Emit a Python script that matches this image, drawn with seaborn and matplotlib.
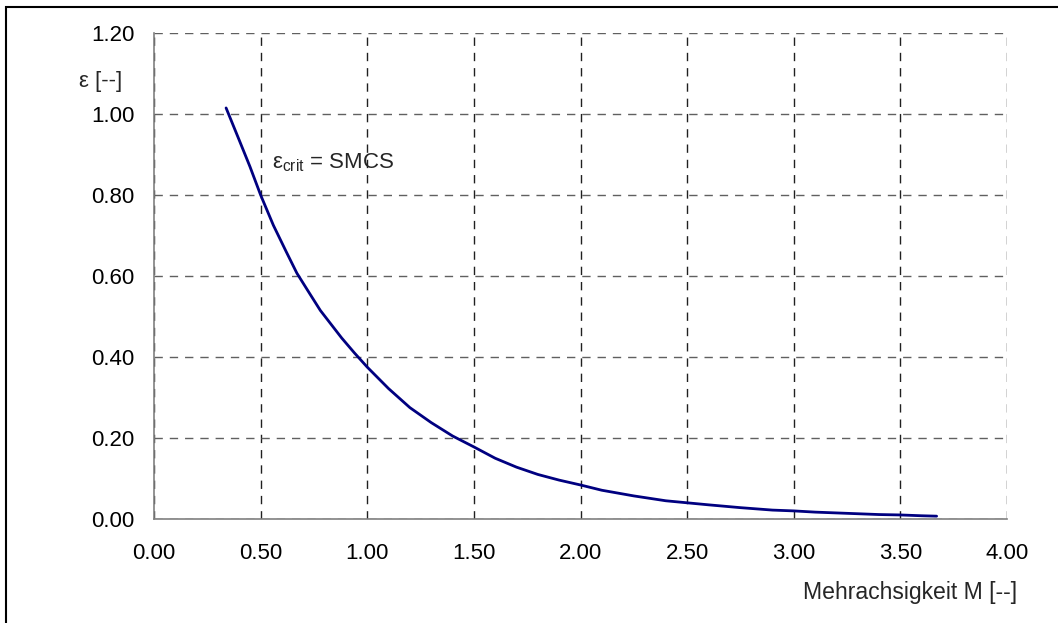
import matplotlib
matplotlib.use("Agg")
import matplotlib.pyplot as plt
import seaborn as sns
import pandas as pd
from matplotlib.patches import Rectangle

# Data
m_values = [0.338, 0.40, 0.45, 0.50, 0.56, 0.62, 0.67, 0.72, 0.78, 0.88, 0.94, 1.00,
            1.10, 1.20, 1.30, 1.40, 1.50, 1.60, 1.70, 1.80, 1.90, 2.00, 2.10, 2.25,
            2.40, 2.50, 2.60, 2.75, 2.90, 3.00, 3.10, 3.25, 3.40, 3.50, 3.60, 3.67]
eps_values = [1.015, 0.935, 0.87, 0.80, 0.725, 0.66, 0.607, 0.565, 0.515, 0.447, 0.41,
              0.375, 0.322, 0.275, 0.238, 0.205, 0.178, 0.150, 0.128, 0.110, 0.096,
              0.084, 0.071, 0.057, 0.045, 0.040, 0.035, 0.028, 0.022, 0.020, 0.017,
              0.014, 0.011, 0.010, 0.008, 0.007]
x_ticks = [0.0, 0.5, 1.0, 1.5, 2.0, 2.5, 3.0, 3.5, 4.0]
y_ticks = [0.0, 0.2, 0.4, 0.6, 0.8, 1.0, 1.2]

sns.set_style("white")
plt.rcParams['font.family'] = ['Liberation Sans', 'DejaVu Sans']
plt.rcParams['mathtext.fontset'] = 'custom'
plt.rcParams['mathtext.rm'] = 'Liberation Sans'
plt.rcParams['mathtext.it'] = 'Liberation Sans'

FS = 16

df = pd.DataFrame({"M": m_values, "eps": eps_values})

fig = plt.figure(figsize=(10.58, 6.23), dpi=100)
ax = fig.add_axes([154 / 1058, 1 - 519 / 623, (1007 - 154) / 1058, (519 - 33) / 623])

sns.lineplot(data=df, x="M", y="eps", ax=ax, color="#000080", linewidth=2.0,
             sort=False, zorder=3)

ax.set_xlim(0, 4)
ax.set_ylim(0, 1.2)
ax.set_xticks(x_ticks)
ax.set_yticks(y_ticks)
ax.set_xticklabels([f"{v:.2f}" for v in x_ticks])
ax.set_yticklabels([f"{v:.2f}" for v in y_ticks])
ax.tick_params(axis="both", direction="out", length=5, width=1, color="#808080",
               labelsize=FS, labelcolor="black")
ax.tick_params(axis="x", pad=12)
ax.tick_params(axis="y", pad=9)

ax.xaxis.grid(True, linestyle=(0, (6, 5)), color="#202020", linewidth=1)
ax.yaxis.grid(True, linestyle=(0, (6, 5)), color="#606060", linewidth=1)
for s in ["top", "right"]:
    ax.spines[s].set_visible(False)
for s in ["left", "bottom"]:
    ax.spines[s].set_color("#808080")
    ax.spines[s].set_linewidth(1.2)
    ax.spines[s].set_zorder(4)

ax.set_xlabel("")
ax.set_ylabel("")

fig.text(122 / 1058, 1 - 82 / 623, "ε [--]", ha="right", va="center", fontsize=FS)
fig.text(1017 / 1058, 1 - 593 / 623, "Mehrachsigkeit M [--]", ha="right",
         va="center", fontsize=16.6)
ax.text(0.553, 0.879, r"$\mathrm{ε}_{\mathrm{crit}}$ = SMCS", ha="left",
        va="center", fontsize=FS)

# outer frame (left and top edges visible in reference)
fig.patches.append(Rectangle((6 / 1058, -0.1), 1.2, 1.1 - 7 / 623, transform=fig.transFigure,
                             fill=False, edgecolor="black", linewidth=1.5))

fig.savefig("out.png", dpi=100)
